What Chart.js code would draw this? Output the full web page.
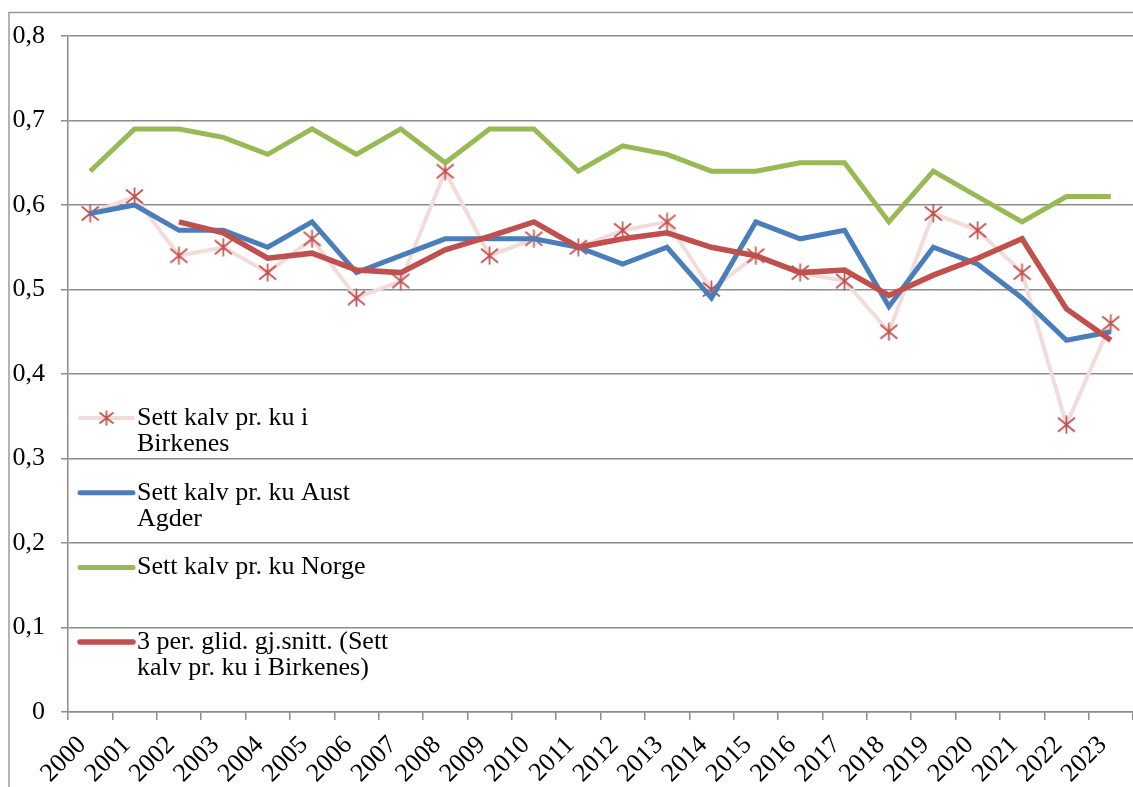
<!DOCTYPE html>
<html>
<head>
<meta charset="utf-8">
<script src="https://cdn.jsdelivr.net/npm/chart.js@4"></script>
<style>
  html, body { margin: 0; padding: 0; background: #fff; }
  #wrap { width: 1133px; height: 787px; position: relative; }
</style>
</head>
<body>
<div id="wrap"><canvas id="chart"></canvas></div>
<script>
const years = ['2000', '2001', '2002', '2003', '2004', '2005', '2006', '2007', '2008', '2009', '2010', '2011',
  '2012', '2013', '2014', '2015', '2016', '2017', '2018', '2019', '2020', '2021', '2022', '2023'];

const birkenes = [0.59, 0.61, 0.54, 0.55, 0.52, 0.56, 0.49, 0.51, 0.64, 0.54, 0.56, 0.55,
  0.57, 0.58, 0.50, 0.54, 0.52, 0.51, 0.45, 0.59, 0.57, 0.52, 0.34, 0.46];
const austAgder = [0.59, 0.60, 0.57, 0.57, 0.55, 0.58, 0.52, 0.54, 0.56, 0.56, 0.56, 0.55,
  0.53, 0.55, 0.49, 0.58, 0.56, 0.57, 0.48, 0.55, 0.53, 0.49, 0.44, 0.45];
const norge = [0.64, 0.69, 0.69, 0.68, 0.66, 0.69, 0.66, 0.69, 0.65, 0.69, 0.69, 0.64,
  0.67, 0.66, 0.64, 0.64, 0.65, 0.65, 0.58, 0.64, 0.61, 0.58, 0.61, 0.61];
const glidSnitt = [null, null, 0.58, 0.567, 0.537, 0.543, 0.523, 0.52, 0.547, 0.563, 0.58, 0.55,
  0.56, 0.567, 0.55, 0.54, 0.52, 0.523, 0.493, 0.517, 0.537, 0.56, 0.477, 0.44];

const seriesNames = [
  'Sett kalv pr. ku i\nBirkenes',
  'Sett kalv pr. ku Aust\nAgder',
  'Sett kalv pr. ku Norge',
  '3 per. glid. gj.snitt. (Sett\nkalv pr. ku i Birkenes)'
];

const FONT = '"Liberation Serif", "DejaVu Serif", serif';

// Excel style star marker: vertical stroke plus an X
function makeAsterisk(size, color) {
  const c = document.createElement('canvas');
  c.width = size; c.height = size;
  const g = c.getContext('2d');
  g.strokeStyle = color;
  g.lineWidth = 1.7;
  g.beginPath();
  g.moveTo(size / 2, 0.5); g.lineTo(size / 2, size - 0.5);
  g.moveTo(1, 2.5); g.lineTo(size - 1, size - 2.5);
  g.moveTo(size - 1, 2.5); g.lineTo(1, size - 2.5);
  g.stroke();
  return c;
}
const star = makeAsterisk(19, '#c0504d');
const starSmall = makeAsterisk(16, '#c0504d');

// outer chart frame, only its top and left edges fall inside the picture
const framePlugin = {
  id: 'frame',
  beforeDraw(chart) {
    const ctx = chart.ctx;
    ctx.save();
    ctx.strokeStyle = '#9a9a9a';
    ctx.lineWidth = 1.5;
    ctx.strokeRect(9, 12.5, chart.width + 20, chart.height + 20);
    ctx.restore();
  }
};

const legendPlugin = {
  id: 'insideLegend',
  afterDraw(chart) {
    const ctx = chart.ctx;
    const area = chart.chartArea;
    const x0 = area.left + 12, x1 = area.left + 65, tx = area.left + 69;
    let y = area.top + 382;
    ctx.save();
    ctx.font = '26px ' + FONT;
    ctx.textBaseline = 'middle';
    ctx.textAlign = 'left';
    chart.data.datasets.forEach((ds, i) => {
      ctx.strokeStyle = ds.borderColor;
      ctx.lineWidth = ds.borderWidth;
      ctx.lineCap = 'round';
      ctx.beginPath();
      ctx.moveTo(x0, y); ctx.lineTo(x1, y);
      ctx.stroke();
      if (i === 0) ctx.drawImage(starSmall, (x0 + x1) / 2 - 8, y - 8);
      ctx.fillStyle = '#000';
      seriesNames[i].split('\n').forEach((line, k) => ctx.fillText(line, tx, y + k * 26.5));
      y += 74.7;
    });
    ctx.restore();
  }
};

new Chart(document.getElementById('chart'), {
  type: 'line',
  data: {
    labels: years,
    datasets: [
      {
        label: seriesNames[0].replace('\n', ' '),
        data: birkenes,
        borderColor: '#f2dcdb',
        borderWidth: 4,
        pointStyle: star,
        pointRadius: 9,
        tension: 0,
        order: 4
      },
      {
        label: seriesNames[1].replace('\n', ' '),
        data: austAgder,
        borderColor: '#4a7ebb',
        borderWidth: 5,
        pointRadius: 0,
        tension: 0,
        order: 3
      },
      {
        label: seriesNames[2],
        data: norge,
        borderColor: '#98b954',
        borderWidth: 5,
        pointRadius: 0,
        tension: 0,
        order: 2
      },
      {
        label: seriesNames[3].replace('\n', ' '),
        data: glidSnitt,
        borderColor: '#c0504d',
        borderWidth: 5.5,
        pointRadius: 0,
        tension: 0,
        order: 1
      }
    ]
  },
  options: {
    responsive: true,
    maintainAspectRatio: false,
    animation: false,
    layout: { autoPadding: false, padding: { top: 36, right: 0, left: 0, bottom: 0 } },
    plugins: {
      legend: { display: false },
      tooltip: { enabled: false }
    },
    scales: {
      x: {
        offset: true,
        grid: { drawOnChartArea: false, color: '#8c8c8c', lineWidth: 1.5, tickLength: 8, offset: true },
        border: { color: '#8c8c8c', width: 1.5 },
        ticks: {
          color: '#000',
          font: { family: FONT, size: 26 },
          minRotation: 45,
          maxRotation: 45,
          autoSkip: false,
          padding: 10,
          labelOffset: -8
        },
        afterFit(scale) {
          scale.height = 75;
          scale.paddingRight = 0;
          scale.paddingLeft = 0;
        }
      },
      y: {
        min: 0,
        max: 0.8,
        grid: { color: '#8c8c8c', lineWidth: 1.5, tickLength: 7 },
        border: { color: '#8c8c8c', width: 1.5 },
        ticks: {
          stepSize: 0.1,
          color: '#000',
          padding: 16,
          font: { family: FONT, size: 26 },
          callback: v => v === 0 ? '0' : v.toFixed(1).replace('.', ',')
        },
        afterFit(scale) {
          scale.width = 68;
          scale.paddingTop = 0;
          scale.paddingBottom = 0;
        }
      }
    }
  },
  plugins: [framePlugin, legendPlugin]
});
</script>
</body>
</html>
